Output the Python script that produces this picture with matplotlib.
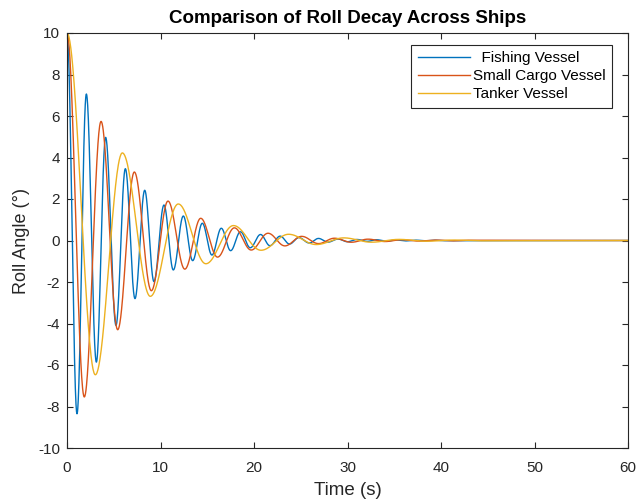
import numpy as np
import matplotlib
matplotlib.use("Agg")
import matplotlib.pyplot as plt

plt.rcParams['font.family'] = ['Liberation Sans', 'DejaVu Sans']
plt.rcParams['axes.unicode_minus'] = False

# Extrema (time in s, roll angle in deg)
fishing_t = [0, 1.07, 2.07, 3.14, 4.13, 5.24, 6.24, 7.27, 8.31, 9.30, 10.37, 11.37,
             12.44, 13.44, 14.47, 15.50, 16.50, 17.50, 18.55, 19.6, 20.7, 21.7, 22.8,
             23.8, 24.8, 25.9, 26.9, 27.9, 29.0, 30.0, 31.0, 32.1, 33.1, 34.2, 35.2,
             36.2, 37.3, 38.3, 39.3, 40.4, 60.0]
fishing_v = [10, -8.35, 7.06, -5.86, 4.97, -4.09, 3.46, -2.80, 2.42, -1.98, 1.71, -1.42,
             1.18, -0.97, 0.83, -0.70, 0.59, -0.49, 0.42, -0.35, 0.29, -0.25, 0.21,
             -0.17, 0.14, -0.12, 0.10, -0.08, 0.07, -0.06, 0.05, -0.04, 0.035, -0.03,
             0.025, -0.02, 0.017, -0.014, 0.012, -0.01, 0.0]

cargo_t = [0, 1.85, 3.64, 5.42, 7.20, 9.02, 10.8, 12.6, 14.3, 16.1, 17.9, 19.7, 21.5,
           23.3, 25.1, 26.9, 28.6, 30.4, 32.2, 34.0, 35.8, 37.6, 39.4, 41.2, 43.0, 60.0]
cargo_v = [10, -7.54, 5.74, -4.30, 3.30, -2.42, 1.90, -1.38, 1.07, -0.80, 0.61, -0.46,
           0.35, -0.26, 0.20, -0.15, 0.11, -0.085, 0.065, -0.05, 0.037, -0.028, 0.021,
           -0.016, 0.012, 0.0]

tanker_t = [0, 3.03, 5.92, 8.91, 11.9, 14.85, 17.8, 20.75, 23.7, 26.65, 29.6, 32.55,
            35.5, 38.45, 41.4, 44.35, 60.0]
tanker_v = [10, -6.47, 4.22, -2.69, 1.76, -1.12, 0.72, -0.47, 0.30, -0.195, 0.126,
            -0.082, 0.053, -0.034, 0.022, -0.014, 0.0]

labels = ['  Fishing Vessel', 'Small Cargo Vessel', 'Tanker Vessel']
colors = ['#0072BD', '#D95319', '#EDB120']
x_ticks = [0, 10, 20, 30, 40, 50, 60]
y_ticks = [-10, -8, -6, -4, -2, 0, 2, 4, 6, 8, 10]


def smooth_path(tt, vv, n=60):
    """Join successive extrema with half-cosine arcs for drawing."""
    xs, ys = [], []
    for i in range(len(tt) - 1):
        t0, t1, v0, v1 = tt[i], tt[i + 1], vv[i], vv[i + 1]
        s = np.linspace(0, 1, n, endpoint=False)
        xs.append(t0 + s * (t1 - t0))
        ys.append((v0 + v1) / 2 + (v0 - v1) / 2 * np.cos(np.pi * s))
    xs.append([tt[-1]])
    ys.append([vv[-1]])
    return np.concatenate(xs), np.concatenate(ys)


fig = plt.figure(figsize=(6.40, 5.01), dpi=100)
ax = fig.add_axes([67 / 640, 53 / 501, 561 / 640, 415 / 501])

for tt, vv, lab, c in zip([fishing_t, cargo_t, tanker_t],
                          [fishing_v, cargo_v, tanker_v], labels, colors):
    x, y = smooth_path(tt, vv)
    ax.plot(x, y, color=c, lw=1.0, label=lab)

ax.set_xlim(0, 60)
ax.set_ylim(-10, 10)
ax.set_xticks(x_ticks)
ax.set_yticks(y_ticks)
ax.tick_params(direction='in', top=True, right=True, length=4, width=0.8,
               labelsize=11, colors='#262626')
ax.tick_params(axis='x', pad=9.5)
ax.tick_params(axis='y', pad=5)
for sp in ax.spines.values():
    sp.set_color('#262626')
    sp.set_linewidth(0.8)

ax.set_xlabel('Time (s)', fontsize=13.5, color='#262626', labelpad=5)
ax.set_ylabel('Roll Angle (°)', fontsize=13, color='#262626', labelpad=6)
ax.set_title('Comparison of Roll Decay Across Ships', fontsize=13.5,
             fontweight='bold', color='black', pad=7)

leg = ax.legend(loc='upper right', bbox_to_anchor=(0.9715, 0.971), borderaxespad=0,
                fontsize=11, handlelength=3.45, handletextpad=0.2,
                labelspacing=0.27, borderpad=0.4, fancybox=False, framealpha=1)
leg.get_frame().set_edgecolor('#262626')
leg.get_frame().set_linewidth(0.8)

fig.savefig('out.png', dpi=100)
